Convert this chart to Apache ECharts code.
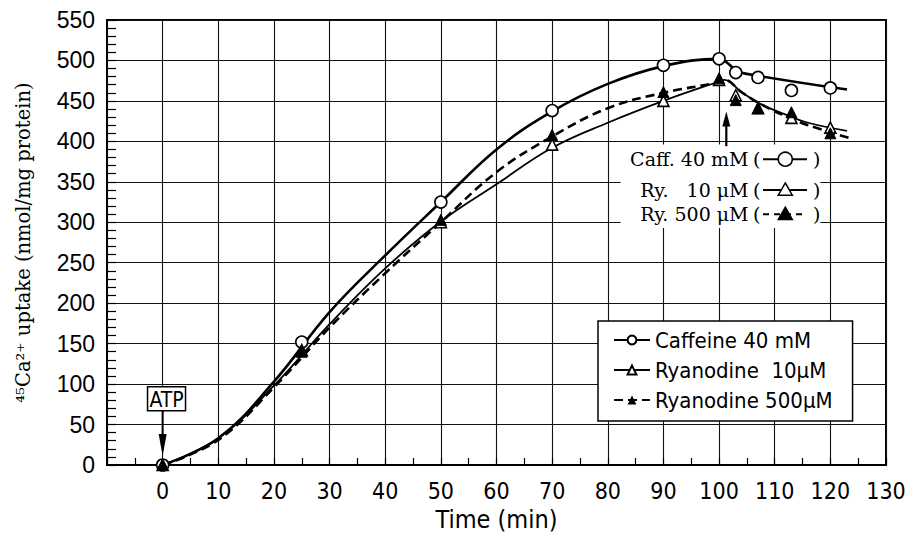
<!DOCTYPE html>
<html><head><meta charset="utf-8">
<script src="https://cdn.jsdelivr.net/npm/echarts@6/dist/echarts.min.js"></script>
<style>html,body{margin:0;padding:0;background:#fff}#c{width:906px;height:535px}</style>
</head><body><div id="c"></div>
<script>
// ---- tick labels ----
const xTickValues = [0,10,20,30,40,50,60,70,80,90,100,110,120,130];
const xTickLabels = ['0','10','20','30','40','50','60','70','80','90','100','110','120','130'];
const yTickValues = [0,50,100,150,200,250,300,350,400,450,500,550];
const yTickLabels = ['0','50','100','150','200','250','300','350','400','450','500','550'];

// ---- series names ----
const seriesNames = ['Caffeine 40 mM', 'Ryanodine  10\u03bcM', 'Ryanodine 500\u03bcM'];

// ---- measured points (markers) ----
const ptsT      = [0, 25, 50, 70, 90, 100, 103, 107, 113, 120];
const caffPtsV  = [0, 152, 325, 438, 494, 502, 485, 479, 463, 466];
const ry10PtsV  = [0, 142, 300, 396, 450, 476, 457, 441, 429, 417];
const ry500PtsV = [0, 140, 303, 408, 461, 478, 451, 441, 436, 410];

// ---- fitted curves ----
const caffCurveT  = [0, 10, 20, 30, 40, 50, 60, 70, 80, 90, 100, 101.3, 103, 104.5, 123];
const caffCurveV  = [0, 33, 103, 189, 259, 325, 390, 437, 471, 493, 502, 498, 488, 484, 464];
const ry10CurveT  = [0, 10, 20, 30, 40, 50, 60, 70, 80, 90, 100, 101, 104, 107.5, 112, 116, 123];
const ry10CurveV  = [0, 33, 98, 174, 243, 301, 347, 392, 423, 450, 474, 476, 461, 446, 433, 423, 413];
const ry500CurveT = [0, 10, 20, 30, 40, 50, 60, 70, 80, 90, 100, 101, 104, 107.5, 112, 116, 123.5];
const ry500CurveV = [0, 31, 96, 170, 237, 300, 362, 406, 441, 460, 473, 476, 461, 446, 431, 420, 404];

// ---- annotation texts ----
const annoLines = ['Caff. 40 mM', 'Ry.   10 \u03bcM', 'Ry. 500 \u03bcM'];
const atpText = 'ATP';

const pairs = (ts, vs) => ts.map((t, i) => [t, vs[i]]);
const NARROW = "'Liberation Sans Narrow', 'DejaVu Sans Condensed', 'Liberation Sans', sans-serif";
const SERIF = "'DejaVu Serif', 'Liberation Serif', serif";

const chart = echarts.init(document.getElementById('c'), null, {renderer: 'svg'});

const option = {
  animation: false,
  backgroundColor: '#fff',
  grid: {left: 107, right: 20, top: 20, bottom: 70, containLabel: false, outerBoundsMode: 'none',
         show: true, borderColor: '#000', borderWidth: 2, backgroundColor: 'transparent'},
  xAxis: {
    type: 'value', min: -10, max: 130, interval: 10,
    axisLine: {show: true, onZero: false, lineStyle: {color: '#000', width: 2}},
    axisTick: {show: true, inside: true, length: 7, lineStyle: {color: '#000', width: 1.2}},
    minorTick: {show: true, splitNumber: 2, length: 7, lineStyle: {color: '#000', width: 1.2}},
    splitLine: {show: true, lineStyle: {color: '#111', width: 1.1}},
    axisLabel: {
      margin: 14, color: '#000', fontFamily: NARROW, fontSize: 23,
      formatter: v => { const i = xTickValues.indexOf(v); return i >= 0 ? xTickLabels[i] : ''; }
    },
    name: 'Time (min)', nameLocation: 'middle', nameGap: 42, nameMoveOverlap: false,
    nameTextStyle: {color: '#000', fontFamily: NARROW, fontSize: 25}
  },
  yAxis: {
    type: 'value', min: 0, max: 550, interval: 50,
    axisLine: {show: true, onZero: false, lineStyle: {color: '#000', width: 2}},
    axisTick: {show: true, inside: true, length: 9, lineStyle: {color: '#000', width: 1.2}},
    minorTick: {show: true, splitNumber: 5, length: 9, lineStyle: {color: '#000', width: 1.2}},
    splitLine: {show: true, lineStyle: {color: '#111', width: 1.1}},
    axisLabel: {
      margin: 12, color: '#000', fontFamily: "'Liberation Sans', Arial, sans-serif", fontSize: 23,
      formatter: v => { const i = yTickValues.indexOf(v); return i >= 0 ? yTickLabels[i] : ''; }
    },
    name: '\u2074\u2075Ca\u00b2\u207a uptake (nmol/mg protein)', nameLocation: 'middle', nameGap: 74, nameMoveOverlap: false,
    nameTextStyle: {color: '#000000', fontFamily: SERIF, fontSize: 19.5, opacity: 1}
  },
  legend: {
    data: seriesNames, orient: 'vertical', left: 598, top: 321,
    itemWidth: 36, itemHeight: 11, itemGap: 8, padding: [8, 20, 10, 15],
    backgroundColor: '#fff', borderColor: '#000', borderWidth: 1.5, borderRadius: 0,
    textStyle: {color: '#000', fontFamily: NARROW, fontSize: 22},
    selectedMode: false, z: 20
  },
  series: [
    {name: seriesNames[0], type: 'line', data: pairs(caffCurveT, caffCurveV), smooth: 0.4,
     symbol: 'emptyCircle', showSymbol: false, silent: true, z: 3,
     itemStyle: {color: '#000'}, lineStyle: {color: '#000', width: 2.6}},
    {name: seriesNames[1], type: 'line', data: pairs(ry10CurveT, ry10CurveV), smooth: 0.4,
     symbol: 'emptyTriangle', showSymbol: false, silent: true, z: 3,
     itemStyle: {color: '#000'}, lineStyle: {color: '#000', width: 1.8}},
    {name: seriesNames[2], type: 'line', data: pairs(ry500CurveT, ry500CurveV), smooth: 0.4,
     symbol: 'triangle', showSymbol: false, silent: true, z: 3,
     itemStyle: {color: '#000'}, lineStyle: {color: '#000', width: 2.6, type: [9, 5]}},
    {name: 'caffPts', type: 'scatter', data: pairs(ptsT, caffPtsV), symbol: 'circle', symbolSize: 12, z: 5, silent: true,
     itemStyle: {color: '#fff', borderColor: '#000', borderWidth: 1.6, opacity: 1}},
    {name: 'ry10Pts', type: 'scatter', data: pairs(ptsT, ry10PtsV), symbol: 'triangle', symbolSize: 11, z: 6, silent: true,
     itemStyle: {color: '#fff', borderColor: '#000', borderWidth: 1.6, opacity: 1}},
    {name: 'ry500Pts', type: 'scatter', data: pairs(ptsT, ry500PtsV), symbol: 'triangle', symbolSize: 11, z: 7, silent: true,
     itemStyle: {color: '#000', borderColor: '#000', borderWidth: 1, opacity: 1}}
  ]
};
chart.setOption(option);

// ---- annotations positioned in data coordinates ----
const P = (t, v) => chart.convertToPixel({gridIndex: 0}, [t, v]);
const g = [];
// ATP arrow
const a0 = P(0, 67), a1 = P(0, 11);
g.push({type: 'line', shape: {x1: a0[0], y1: a0[1], x2: a1[0], y2: a1[1] - 10}, style: {stroke: '#000', lineWidth: 2}, z: 30});
g.push({type: 'polygon', shape: {points: [[a1[0] - 4, a1[1] - 22], [a1[0] + 4, a1[1] - 22], [a1[0], a1[1]]]}, style: {fill: '#000'}, z: 30});
const ab = P(0.7, 82);
g.push({type: 'rect', shape: {x: ab[0] - 19, y: ab[1] - 12, width: 38, height: 24}, style: {fill: '#fff', stroke: '#000', lineWidth: 1.5}, z: 30});
g.push({type: 'text', x: ab[0], y: ab[1] + 1, style: {text: atpText, fill: '#000', font: "21px " + NARROW, align: 'center', verticalAlign: 'middle'}, z: 31});

// white box of the in-plot note
const wb0 = P(82.3, 396), wb1 = P(118.2, 293);
g.push({type: 'rect', shape: {x: wb0[0], y: wb0[1], width: wb1[0] - wb0[0], height: wb1[1] - wb0[1]}, style: {fill: '#fff'}, z: 25});
// arrow pointing at the drug addition
const b0 = P(101.3, 394), b1 = P(101.3, 437);
g.push({type: 'line', shape: {x1: b0[0], y1: b0[1], x2: b1[0], y2: b1[1] + 10}, style: {stroke: '#000', lineWidth: 2.2}, z: 30});
g.push({type: 'polygon', shape: {points: [[b1[0] - 4, b1[1] + 15], [b1[0] + 4, b1[1] + 15], [b1[0], b1[1]]]}, style: {fill: '#000'}, z: 30});

const lineV = [378, 340, 310];
lineV.forEach((v, i) => {
  const pt = P(105.3, v);
  g.push({type: 'text', x: pt[0], y: pt[1], style: {text: annoLines[i], fill: '#000', font: "19px " + SERIF, align: 'right', verticalAlign: 'middle'}, z: 31});
  const po = P(106.1, v), pc = P(116.9, v);
  g.push({type: 'text', x: po[0], y: pt[1], style: {text: '(', fill: '#000', font: "19px " + SERIF, align: 'left', verticalAlign: 'middle'}, z: 31});
  g.push({type: 'text', x: pc[0], y: pt[1], style: {text: ')', fill: '#000', font: "19px " + SERIF, align: 'left', verticalAlign: 'middle'}, z: 31});
  const l0 = P(107.9, v), l1 = P(115.8, v), m = P(111.9, v);
  g.push({type: 'line', shape: {x1: l0[0], y1: m[1], x2: l1[0], y2: m[1]},
          style: {stroke: '#000', lineWidth: 2, lineDash: i < 2 ? null : [6, 5]}, z: 31});
  if (i === 0) {
    g.push({type: 'circle', shape: {cx: m[0], cy: m[1], r: 7}, style: {fill: '#fff', stroke: '#000', lineWidth: 1.6}, z: 32});
  } else {
    const s = 7;
    g.push({type: 'polygon', shape: {points: [[m[0], m[1] - s], [m[0] + s, m[1] + s * 0.75], [m[0] - s, m[1] + s * 0.75]]},
            style: {fill: i === 1 ? '#fff' : '#000', stroke: '#000', lineWidth: 1.5}, z: 32});
  }
});
chart.setOption({graphic: {elements: g}});
</script>
</body></html>
